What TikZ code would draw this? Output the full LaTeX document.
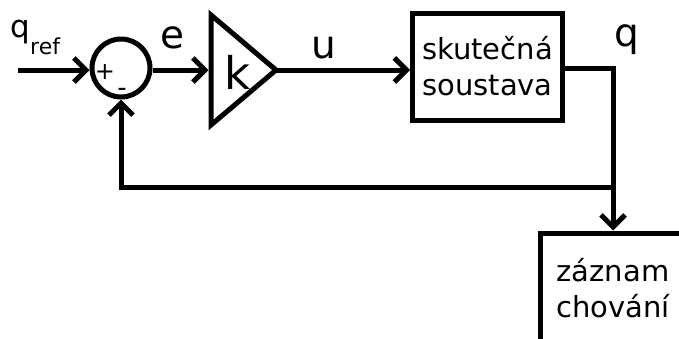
\documentclass[tikz,border=0pt]{standalone}
\usepackage{fontspec}
\setmainfont{DejaVu Sans}
\usetikzlibrary{arrows.meta}
\usetikzlibrary{shapes.geometric}

\begin{document}
\begin{tikzpicture}[x=1pt, y=1pt,
    line width=5pt,
    sig/.style={-{Straight Barb[length=12pt, width=24pt]}},
    blok/.style={draw, rectangle, inner sep=0pt, align=center,
      font=\fontsize{29}{36}\selectfont},
    lbl/.style={font=\fontsize{39}{39}\selectfont, inner sep=0pt}]
      \useasboundingbox (0, 0) rectangle (679, -338);
      \clip (0, 0) rectangle (679, -338);
      % bloky
      \node[draw, circle, minimum size=58pt, inner sep=0pt] (sum) at (121, -68) {};
      \node[font=\fontsize{24}{24}\selectfont] (plus) at (105, -72) {+};
      \node[font=\fontsize{26}{26}\selectfont] (minus) at (122, -92) {-};
      \node[draw, isosceles triangle, isosceles triangle stretches, inner sep=0pt,
        outer sep=0pt, minimum width=110pt, minimum height=65pt, anchor=apex]
        (gain) at (276, -70) {};
      \node[lbl, font=\fontsize{45}{45}\selectfont] (k) at (238, -72) {k};
      \node[blok, minimum width=150pt, minimum height=107pt] (plant) at (487.5, -66.5)
        {skutečná\\soustava};
      \node[blok, minimum width=146pt, minimum height=110pt] (rec) at (613, -288)
        {záznam\\chování};
      % popisky
      \node[lbl, font=\fontsize{31}{31}\selectfont, anchor=base west] (qref) at (8, -37)
        {q\raisebox{-17pt}{\fontsize{22}{22}\selectfont ref}};
      \node[lbl] (e) at (172, -38) {e};
      \node[lbl] (u) at (324, -48) {u};
      \node[lbl] (q) at (627, -40) {q};
      % spoje
      \coordinate (in) at (18, -70);
      \coordinate (corner) at (613, -68);
      \coordinate (split) at (613, -187);
      \draw[sig] (in) -- (sum.west |- in);
      \draw[sig] (sum.east |- in) -- ([xshift=-2.5pt]gain.lower side |- in);
      \draw[sig] (gain.apex) -- (plant.west |- gain.apex);
      \draw (plant.east |- corner) -- (corner) -- (split);
      \draw[sig] (split) -- (rec.north);
      \draw[sig] (split) -| (sum.south);
\end{tikzpicture}
\end{document}
